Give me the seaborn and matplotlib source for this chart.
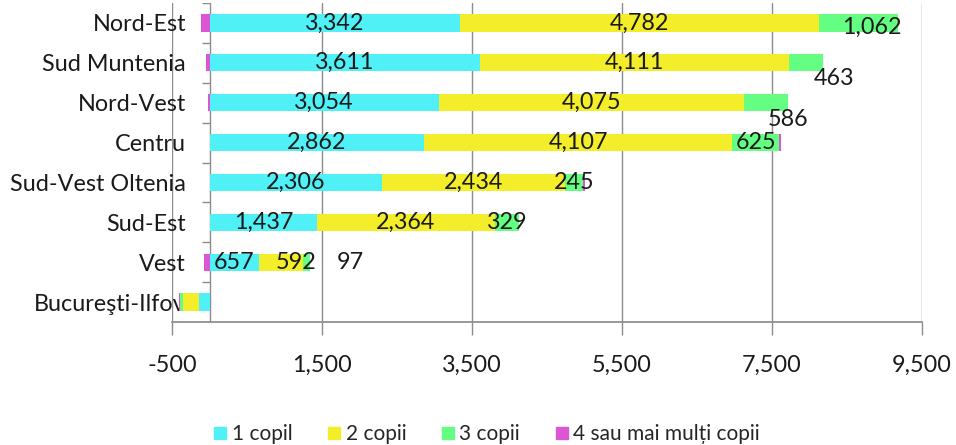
import matplotlib
matplotlib.use("Agg")
import matplotlib.pyplot as plt
from matplotlib.lines import Line2D
import numpy as np
import pandas as pd
import seaborn as sns

# Data
regions = ["Nord-Est", "Sud Muntenia", "Nord-Vest", "Centru",
           "Sud-Vest Oltenia", "Sud-Est", "Vest", "Bucureşti-Ilfov"]
series = ["1 copil", "2 copii", "3 copii", "4 sau mai mulți copii"]
copil_1 = [3342, 3611, 3054, 2862, 2306, 1437, 657, -143]
copii_2 = [4782, 4111, 4075, 4107, 2434, 2364, 592, -208]
copii_3 = [1062, 463, 586, 625, 245, 329, 97, -49]
copii_4 = [-110, -45, -25, 20, 15, 0, -80, -10]
x_ticks = [-500, 1500, 3500, 5500, 7500, 9500]

colors = ["#50F1F6", "#F4EE2A", "#64FE82", "#DA56D2"]

# label nudges in pixels (dx, dy) for labels Excel moved off-centre
nudges = {(2, 0): (13, 4), (2, 1): (28, 16), (2, 2): (22, 17),
          (1, 6): (15, 0), (2, 6): (43, 0)}

sns.set_theme(style="white")
plt.rcParams["font.family"] = ["Lato", "DejaVu Sans"]
FS = 16.8

df = pd.DataFrame({"region": regions, series[0]: copil_1, series[1]: copii_2,
                   series[2]: copii_3, series[3]: copii_4})
vals = df[series].to_numpy(dtype=float)
pos = np.where(vals > 0, vals, 0).cumsum(axis=1)
neg = np.where(vals < 0, vals, 0).cumsum(axis=1)

fig = plt.figure(figsize=(9.56, 4.45), dpi=100)
ax = fig.add_axes([172 / 956, 1 - 322 / 445, 750 / 956, 319 / 445])

# draw cumulative layers from the outside in so inner segments sit on top
for k in range(len(series) - 1, -1, -1):
    for cum in (pos, neg):
        sns.barplot(x=cum[:, k], y=regions, orient="h", color=colors[k],
                    saturation=1, width=0.43, linewidth=0, ax=ax, zorder=3)

# data labels (no labels for the 4+ series nor for București-Ilfov)
for k in range(3):
    for i, r in enumerate(regions):
        v = vals[i, k]
        if v <= 0:
            continue
        centre = pos[i, k] - v / 2
        dx, dy = nudges.get((k, i), (0, 0))
        ax.annotate(f"{int(v):,}", (centre, i), xytext=(dx * 0.72, -dy * 0.72),
                    textcoords="offset points", ha="center", va="center",
                    fontsize=FS, color="#1a1a1a", zorder=5)

ax.set_xlim(-500, 9500)
ax.set_ylim(len(regions) - 0.5, -0.5)
ax.set_xticks(x_ticks)
ax.set_xticklabels([f"{t:,}" for t in x_ticks], fontsize=FS, color="#1a1a1a")
ax.set_yticks(range(len(regions)))
ax.set_yticklabels(regions, fontsize=FS, color="#1a1a1a")
ax.set_xlabel("")
ax.set_ylabel("")

ax.grid(axis="x", color="#8c8c8c", linewidth=1, zorder=0)
ax.grid(axis="y", visible=False)
for s in ["top", "right", "left"]:
    ax.spines[s].set_visible(False)
ax.spines["bottom"].set_color("#8c8c8c")
ax.tick_params(axis="x", length=9, width=1, color="#8c8c8c", pad=15, direction="out",
               bottom=True)
ax.tick_params(axis="y", length=0, pad=-10)

# category axis at zero with small ticks between categories
ax.axvline(0, color="#8c8c8c", linewidth=1, zorder=2)
ax.hlines(np.arange(len(regions) + 1) - 0.5, -100, 0, color="#8c8c8c", linewidth=1,
          zorder=2)

handles = [Line2D([], [], marker="s", linestyle="none", markersize=8,
                  markerfacecolor=c, markeredgecolor=c) for c in colors]
fig.legend(handles, series, loc="center", bbox_to_anchor=(0.507, 1 - 434 / 445),
           ncol=4, frameon=False, fontsize=15, handletextpad=0.05,
           columnspacing=1.5, handlelength=1)

fig.savefig("out.png", dpi=100)
